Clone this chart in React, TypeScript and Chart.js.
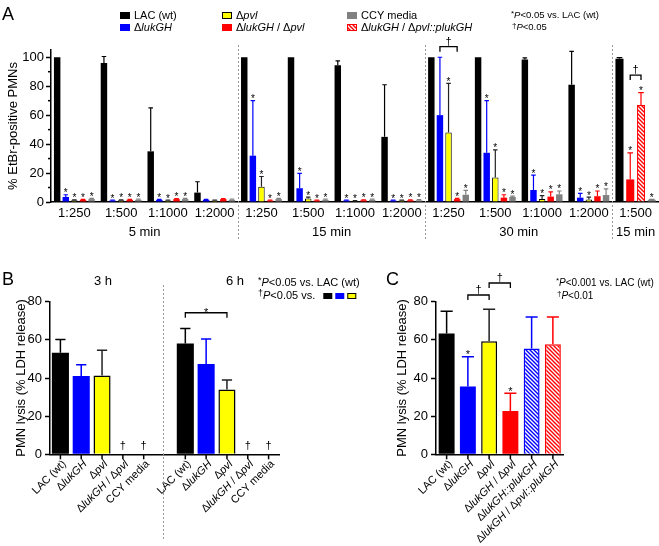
import React, { useEffect, useRef } from 'react';
import { Chart, registerables } from 'chart.js';
Chart.register(...registerables);

const FONT = '"Liberation Sans", Arial, Helvetica, sans-serif';
const BLACK = '#000000';
const BLUE = '#0000ff';
const YELLOW = '#ffff00';
const RED = '#ff0000';
const GRAY = '#808080';
const DARK = '#222222';

// ---------------- Panel A data ----------------
const aCategories = ['1:250', '1:500', '1:1000', '1:2000', '1:250', '1:500', '1:1000', '1:2000', '1:250', '1:500', '1:1000', '1:2000', '1:500'];
const aGroupLabels = ['5 min', '15 min', '30 min', '15 min'];
const aGroupSizes = [4, 4, 4, 1];
const aSeriesNames = ['LAC (wt)', 'Δ_lukGH_', 'Δ_pvl_', 'Δ_lukGH_ / Δ_pvl_', 'Δ_lukGH_ / Δ_pvl::plukGH_', 'CCY media'];
const aLAC = [100, 96, 35, 6.5, 100, 100, 94.5, 45, 100, 100, 98.5, 81, 99];
const aLACErr = [0, 4.5, 30, 7.5, 0, 0, 3, 36, 0, 0, 1, 23, 0.8];
const aLukGH = [3.5, 1, 1.5, 1.5, 32, 9.5, 1, 1, 60, 34, 8.3, 3, null];
const aLukGHErr = [1.5, 0.3, 0.3, 0.3, 38, 10.3, 0.3, 0.3, 40, 36, 10.3, 3, null];
const aPvl = [1.2, 1.2, 1, 1, 10.6, 2.5, 0.6, 1, 48, 17, 2, 1.8, null];
const aPvlErr = [0.3, 0.3, 0.3, 0.3, 7, 0.8, 0.3, 0.3, 34, 19, 2.4, 1.5, null];
const aDouble = [1.5, 1.5, 2, 2, 1, 1, 1.2, 1.2, 2, 3, 3.7, 4, 15.6];
const aDoubleErr = [0.3, 0.3, 0.3, 0.3, 0.3, 0.3, 0.3, 0.3, 0.5, 2, 3.3, 3.6, 18.4];
const aComp = [null, null, null, null, null, null, null, null, null, null, null, null, 67];
const aCompErr = [null, null, null, null, null, null, null, null, null, null, null, null, 8.6];
const aCCY = [2, 1.5, 2, 1.5, 2, 1.5, 1.5, 1.2, 5, 3.5, 5.3, 4.8, 1.5];
const aCCYErr = [0.5, 0.5, 0.5, 0.5, 0.5, 0.5, 0.5, 0.5, 3, 0.5, 2.3, 4.2, 0.3];
const aLACStar = [0, 0, 0, 0, 0, 0, 0, 0, 0, 0, 0, 0, 0];
const aLukGHStar = [1, 1, 1, 0, 1, 1, 1, 1, 0, 1, 1, 1, 0];
const aPvlStar = [1, 1, 1, 0, 1, 1, 1, 1, 1, 1, 1, 1, 0];
const aDoubleStar = [1, 1, 1, 0, 1, 1, 1, 1, 1, 1, 1, 1, 1];
const aCompStar = [0, 0, 0, 0, 0, 0, 0, 0, 0, 0, 0, 0, 1];
const aCCYStar = [1, 1, 1, 0, 1, 1, 1, 1, 1, 1, 1, 1, 1];
const aBrackets = [
  { cat: 8, from: 1, to: 3, level: 107.3, mark: '†' },
  { cat: 12, from: 3, to: 4, level: 87.7, mark: '†' },
];
const aYTicks = [0, 20, 40, 60, 80, 100];

// ---------------- Panel B data ----------------
const bLabels = ['LAC (wt)', 'Δ_lukGH_', 'Δ_pvl_', 'Δ_lukGH_ / Δ_pvl_', 'CCY media'];
const bTimes = ['3 h', '6 h'];
const b3h = [53.2, 41, 41.3, null, null];
const b3hErr = [7, 5.9, 13.3, null, null];
const b6h = [58.1, 47.3, 34, null, null];
const b6hErr = [7.9, 13.1, 5, null, null];
const bDagger = [0, 0, 0, 1, 1];
const bBracket = { from: 6, to: 8, level: 74.2, mark: '*' };

// ---------------- Panel C data ----------------
const cLabels = ['LAC (wt)', 'Δ_lukGH_', 'Δ_pvl_', 'Δ_lukGH_ / Δ_pvl_', 'Δ_lukGH::plukGH_', 'Δ_lukGH_ / Δ_pvl::plukGH_'];
const cValues = [63.3, 35.5, 59.3, 22.7, 55.5, 57.7];
const cErr = [11.7, 15.6, 16.8, 9.3, 16.5, 14.3];
const cStar = [0, 1, 0, 1, 0, 0];
const cBrackets = [
  { from: 1, to: 2, level: 83.5, mark: '†' },
  { from: 2, to: 3, level: 89.8, mark: '†' },
];

// ---------------- helpers ----------------
type Seg = { t: string; it: boolean; sup: boolean };
function parseRich(s: string): Seg[] {
  const segs: Seg[] = [];
  let it = false;
  let buf = '';
  const flush = () => {
    if (buf) segs.push({ t: buf, it, sup: false });
    buf = '';
  };
  for (let i = 0; i < s.length; i++) {
    const c = s[i];
    if (c === '_') { flush(); it = !it; continue; }
    if (c === '^') { flush(); segs.push({ t: s[i + 1], it: false, sup: true }); i++; continue; }
    buf += c;
  }
  flush();
  return segs;
}
function fontFor(seg: Seg, size: number) {
  return `${seg.it ? 'italic ' : ''}${seg.sup ? Math.round(size * 0.8) : size}px ${FONT}`;
}
function richWidth(ctx: CanvasRenderingContext2D, text: string, size: number) {
  let w = 0;
  for (const s of parseRich(text)) { ctx.font = fontFor(s, size); w += ctx.measureText(s.t).width; }
  return w;
}
function drawRich(ctx: CanvasRenderingContext2D, text: string, x: number, y: number, size: number, align = 'left', color = '#000') {
  const segs = parseRich(text);
  const w = richWidth(ctx, text, size);
  let cx = align === 'left' ? x : align === 'right' ? x - w : x - w / 2;
  ctx.save();
  ctx.fillStyle = color;
  ctx.textBaseline = 'middle';
  ctx.textAlign = 'left';
  for (const s of segs) {
    ctx.font = fontFor(s, size);
    ctx.fillText(s.t, cx, s.sup ? y - size * 0.22 : y);
    cx += ctx.measureText(s.t).width;
  }
  ctx.restore();
  return w;
}
function hatch(color: string) {
  const c = document.createElement('canvas');
  c.width = 4; c.height = 4;
  const g = c.getContext('2d')!;
  g.fillStyle = '#fff';
  g.fillRect(0, 0, 4, 4);
  g.strokeStyle = color;
  g.lineWidth = 1.4;
  g.beginPath();
  g.moveTo(0, 0); g.lineTo(4, 4);
  g.moveTo(-1, 3); g.lineTo(1, 5);
  g.moveTo(3, -1); g.lineTo(5, 1);
  g.stroke();
  return g.createPattern(c, 'repeat')!;
}
function errBar(ctx: CanvasRenderingContext2D, x: number, yBar: number, yTop: number, half: number, color: string, lw: number) {
  ctx.save();
  ctx.strokeStyle = color;
  ctx.lineWidth = lw;
  ctx.beginPath();
  ctx.moveTo(x, yBar); ctx.lineTo(x, yTop);
  ctx.moveTo(x - half, yTop); ctx.lineTo(x + half, yTop);
  ctx.stroke();
  ctx.restore();
}
function star(ctx: CanvasRenderingContext2D, x: number, y: number, size = 10) {
  ctx.save();
  ctx.font = `${size}px ${FONT}`;
  ctx.fillStyle = '#000';
  ctx.textAlign = 'center';
  ctx.textBaseline = 'alphabetic';
  ctx.fillText('*', x, y + 2.5);
  ctx.restore();
}
function bracket(ctx: CanvasRenderingContext2D, x1: number, x2: number, y: number, drop: number, mark: string) {
  ctx.save();
  ctx.strokeStyle = '#000';
  ctx.lineWidth = 1.3;
  ctx.beginPath();
  ctx.moveTo(x1, y + drop); ctx.lineTo(x1, y); ctx.lineTo(x2, y); ctx.lineTo(x2, y + drop);
  ctx.stroke();
  ctx.font = `11px ${FONT}`;
  ctx.fillStyle = '#000';
  ctx.textAlign = 'center';
  ctx.textBaseline = 'alphabetic';
  ctx.fillText(mark, (x1 + x2) / 2, mark === '*' ? y + 3 : y - 2);
  ctx.restore();
}
function dotted(ctx: CanvasRenderingContext2D, x: number, y1: number, y2: number) {
  ctx.save();
  ctx.strokeStyle = '#999';
  ctx.lineWidth = 1;
  ctx.setLineDash([2, 2]);
  ctx.beginPath();
  ctx.moveTo(Math.round(x) + 0.5, y1); ctx.lineTo(Math.round(x) + 0.5, y2);
  ctx.stroke();
  ctx.restore();
}
function swatch(ctx: CanvasRenderingContext2D, x: number, y: number, w: number, h: number, fill: any, border: string | null) {
  ctx.save();
  ctx.fillStyle = fill;
  ctx.fillRect(x, y - h / 2, w, h);
  if (border) { ctx.strokeStyle = border; ctx.lineWidth = 1; ctx.strokeRect(x + 0.5, y - h / 2 + 0.5, w - 1, h - 1); }
  ctx.restore();
}
function plainLabel(s: string) { return s.replace(/[_^]/g, ''); }

const yAxisBase = (max: number, title: string, titlePad: number, width: number, tickPad: number) => ({
  min: 0,
  max,
  grid: { drawOnChartArea: false, drawTicks: true, tickLength: 5, tickColor: '#000', tickWidth: 1.5, color: '#000' },
  border: { display: true, color: '#000', width: 1.5 },
  ticks: { stepSize: 20, color: '#000', font: { family: FONT, size: 13 }, padding: tickPad },
  title: { display: true, text: title, color: '#000', font: { family: FONT, size: 13 }, padding: { top: titlePad, bottom: 0 } },
  afterFit: (s: any) => { s.width = width; },
});

// ---------------- configs ----------------
function configA(): any {
  const hatchRed = hatch(RED);
  const series = [
    { data: aLAC, err: aLACErr, stars: aLACStar, fill: BLACK, border: BLACK, bw: 0, ec: BLACK },
    { data: aLukGH, err: aLukGHErr, stars: aLukGHStar, fill: BLUE, border: BLUE, bw: 0, ec: BLUE },
    { data: aPvl, err: aPvlErr, stars: aPvlStar, fill: YELLOW, border: BLACK, bw: 1, ec: DARK },
    { data: aDouble, err: aDoubleErr, stars: aDoubleStar, fill: RED, border: RED, bw: 0, ec: RED },
    { data: aComp, err: aCompErr, stars: aCompStar, fill: hatchRed, border: RED, bw: 1, ec: RED },
    { data: aCCY, err: aCCYErr, stars: aCCYStar, fill: GRAY, border: GRAY, bw: 0, ec: GRAY },
  ];
  const plugin = {
    id: 'panelA',
    afterDatasetsDraw(chart: any) {
      const ctx = chart.ctx;
      const y = chart.scales.y;
      series.forEach((s, di) => {
        const meta = chart.getDatasetMeta(di);
        s.data.forEach((v: any, i: number) => {
          if (v === null) return;
          const el = meta.data[i];
          const e = s.err[i] || 0;
          const top = y.getPixelForValue(v + e);
          if (e > 0) errBar(ctx, el.x, el.y, top, Math.max(2, el.width * 0.35), s.ec, 1.2);
          if (s.stars[i]) star(ctx, el.x, top - 1, 10);
        });
      });
      aBrackets.forEach((b) => {
        const x1 = chart.getDatasetMeta(b.from).data[b.cat].x;
        const x2 = chart.getDatasetMeta(b.to).data[b.cat].x;
        bracket(ctx, x1, x2, y.getPixelForValue(b.level), 5, b.mark);
      });
    },
    afterDraw(chart: any) {
      const ctx = chart.ctx;
      const x = chart.scales.x;
      const y = chart.scales.y;
      const area = chart.chartArea;
      // minor ticks
      ctx.save();
      ctx.strokeStyle = '#000';
      ctx.lineWidth = 1.5;
      for (let v = 10; v < 100; v += 20) {
        const py = y.getPixelForValue(v);
        ctx.beginPath(); ctx.moveTo(area.left - 3, py); ctx.lineTo(area.left, py); ctx.stroke();
      }
      ctx.restore();
      // groups
      let start = 0;
      aGroupSizes.forEach((n, gi) => {
        const x1 = x.getPixelForValue(start);
        const x2 = x.getPixelForValue(start + n - 1);
        drawRich(ctx, aGroupLabels[gi], (x1 + x2) / 2, 232, 13, 'center');
        if (gi > 0) {
          const xs = (x.getPixelForValue(start - 1) + x1) / 2;
          dotted(ctx, xs, 45, 240);
        }
        start += n;
      });
      // label A
      drawRich(ctx, 'A', 2, 15, 18, 'left');
      // legend
      const cols = [120, 222, 347];
      const rowsY = [15.5, 27.5];
      const order = [[0, 1], [2, 3], [5, 4]];
      order.forEach((pair, ci) => {
        pair.forEach((si, ri) => {
          const s = series[si];
          swatch(ctx, cols[ci], rowsY[ri], 10, 7, s.fill, s.bw ? s.border : null);
          drawRich(ctx, aSeriesNames[si], cols[ci] + 14, rowsY[ri], 11, 'left');
        });
      });
      drawRich(ctx, '^*_P_<0.05 vs. LAC (wt)', 511, rowsY[0], 9.5, 'left');
      drawRich(ctx, '^†_P_<0.05', 512, rowsY[1], 9.5, 'left');
    },
  };
  return {
    type: 'bar',
    data: {
      labels: aCategories,
      datasets: series.map((s, i) => ({
        label: plainLabel(aSeriesNames[i]),
        data: s.data,
        backgroundColor: s.fill,
        borderColor: s.border,
        borderWidth: s.bw,
        skipNull: true,
      })),
    },
    options: {
      responsive: false,
      animation: false,
      layout: { padding: { left: 0, top: 50, right: 0, bottom: 304 } },
      datasets: { bar: { barPercentage: 0.75, categoryPercentage: 0.92 } },
      plugins: { legend: { display: false }, tooltip: { enabled: false } },
      scales: {
        x: {
          type: 'category',
          offset: true,
          grid: { display: false, drawTicks: false },
          border: { display: true, color: '#000', width: 1.5 },
          ticks: { color: '#000', font: { family: FONT, size: 13 }, padding: 4, maxRotation: 0, autoSkip: false },
          afterFit: (s: any) => { s.height = 40; },
        },
        y: {
          ...yAxisBase(105, '% EtBr-positive PMNs', 5.5, 51, 2),
          afterBuildTicks: (s: any) => { s.ticks = aYTicks.map((v) => ({ value: v })); },
        },
      },
    },
    plugins: [plugin],
  };
}

function drawRotLabels(chart: any, labels: string[]) {
  const ctx = chart.ctx;
  const x = chart.scales.x;
  const bottom = chart.chartArea.bottom;
  labels.forEach((lab, i) => {
    if (!lab) return;
    const px = x.getPixelForValue(i);
    ctx.save();
    ctx.strokeStyle = '#000';
    ctx.lineWidth = 1.5;
    ctx.beginPath(); ctx.moveTo(px, bottom); ctx.lineTo(px, bottom + 5); ctx.stroke();
    ctx.translate(px + 4, bottom + 8);
    ctx.rotate(-Math.PI / 4);
    drawRich(ctx, lab, 0, 0, 11, 'right');
    ctx.restore();
  });
}

function configB(): any {
  const labels = [...bLabels, '', ...bLabels];
  const values = [...b3h, null, ...b6h];
  const errs = [...b3hErr, null, ...b6hErr];
  const daggers = [...bDagger, 0, ...bDagger];
  const fills = [BLACK, BLUE, YELLOW, RED, GRAY];
  const borders = [BLACK, BLUE, BLACK, RED, GRAY];
  const bws = [0, 0, 1.5, 0, 0];
  const ecs = [BLACK, BLUE, DARK, RED, GRAY];
  const pick = (arr: any[]) => [...arr, null, ...arr];
  const plugin = {
    id: 'panelB',
    afterDatasetsDraw(chart: any) {
      const ctx = chart.ctx;
      const y = chart.scales.y;
      const meta = chart.getDatasetMeta(0);
      const ec = pick(ecs);
      values.forEach((v: any, i: number) => {
        const el = meta.data[i];
        if (v !== null) {
          const top = y.getPixelForValue(v + (errs[i] || 0));
          errBar(ctx, el.x, el.y, top, el.width * 0.3, ec[i], 1.5);
        }
        if (daggers[i]) {
          ctx.save();
          ctx.font = `11px ${FONT}`;
          ctx.fillStyle = '#000';
          ctx.textAlign = 'center';
          ctx.textBaseline = 'middle';
          ctx.fillText('†', chart.scales.x.getPixelForValue(i), chart.chartArea.bottom - 8);
          ctx.restore();
        }
      });
      const x1 = meta.data[bBracket.from].x;
      const x2 = meta.data[bBracket.to].x;
      bracket(ctx, x1, x2, y.getPixelForValue(bBracket.level), 5, bBracket.mark);
    },
    afterDraw(chart: any) {
      const ctx = chart.ctx;
      const x = chart.scales.x;
      drawRotLabels(chart, labels);
      drawRich(ctx, 'B', 2, 280, 18, 'left');
      const c1 = (x.getPixelForValue(0) + x.getPixelForValue(4)) / 2;
      const c2 = (x.getPixelForValue(6) + x.getPixelForValue(10)) / 2;
      drawRich(ctx, bTimes[0], c1 + 1, 281, 13, 'center');
      drawRich(ctx, bTimes[1], c2 + 8, 281, 13, 'center');
      dotted(ctx, x.getPixelForValue(5) - 2, 285, 540);
      drawRich(ctx, '^*_P_<0.05 vs. LAC (wt)', 258, 283, 11, 'left');
      const w = drawRich(ctx, '^†_P_<0.05 vs.', 258, 296, 11, 'left');
      [0, 1, 2].forEach((k) => swatch(ctx, 258 + w + 8 + k * 12, 296, 9, 6, fills[k], k === 2 ? BLACK : null));
    },
  };
  return {
    type: 'bar',
    data: {
      labels: labels.map(plainLabel),
      datasets: [{
        label: 'PMN lysis',
        data: values,
        backgroundColor: pick(fills),
        borderColor: pick(borders),
        borderWidth: pick(bws).map((v) => v || 0),
      }],
    },
    options: {
      responsive: false,
      animation: false,
      layout: { padding: { left: 0, top: 301.7, right: 380, bottom: 51.7 } },
      datasets: { bar: { barPercentage: 0.82, categoryPercentage: 1 } },
      plugins: { legend: { display: false }, tooltip: { enabled: false } },
      scales: {
        x: {
          type: 'category', offset: true,
          grid: { display: false, drawTicks: false },
          border: { display: true, color: '#000', width: 1.5 },
          ticks: { display: false },
          afterFit: (s: any) => { s.height = 40; },
        },
        y: yAxisBase(80, 'PMN lysis (% LDH release)', 14, 50, 3),
      },
    },
    plugins: [plugin],
  };
}

function configC(): any {
  const fills = [BLACK, BLUE, YELLOW, RED, hatch(BLUE), hatch(RED)];
  const borders = [BLACK, BLUE, BLACK, RED, BLUE, RED];
  const bws = [0, 0, 1.5, 0, 1.5, 1.5];
  const ecs = [BLACK, BLUE, DARK, RED, BLUE, RED];
  const plugin = {
    id: 'panelC',
    afterDatasetsDraw(chart: any) {
      const ctx = chart.ctx;
      const y = chart.scales.y;
      const meta = chart.getDatasetMeta(0);
      cValues.forEach((v, i) => {
        const el = meta.data[i];
        const top = y.getPixelForValue(v + cErr[i]);
        errBar(ctx, el.x, el.y, top, el.width * 0.38, ecs[i], 1.5);
        if (cStar[i]) star(ctx, el.x, top - 1, 11);
      });
      cBrackets.forEach((b) => {
        bracket(ctx, meta.data[b.from].x, meta.data[b.to].x, y.getPixelForValue(b.level), 5, b.mark);
      });
    },
    afterDraw(chart: any) {
      const ctx = chart.ctx;
      drawRotLabels(chart, cLabels);
      drawRich(ctx, 'C', 386, 280, 18, 'left');
      drawRich(ctx, '^*_P_<0.001 vs. LAC (wt)', 556, 283, 10, 'left');
      drawRich(ctx, '^†_P_<0.01', 557, 296, 10, 'left');
    },
  };
  return {
    type: 'bar',
    data: {
      labels: cLabels.map(plainLabel),
      datasets: [{ label: 'PMN lysis', data: cValues, backgroundColor: fills, borderColor: borders, borderWidth: bws }],
    },
    options: {
      responsive: false,
      animation: false,
      layout: { padding: { left: 386, top: 301.7, right: 95.5, bottom: 51.7 } },
      datasets: { bar: { barPercentage: 0.75, categoryPercentage: 1 } },
      plugins: { legend: { display: false }, tooltip: { enabled: false } },
      scales: {
        x: {
          type: 'category', offset: true,
          grid: { display: false, drawTicks: false },
          border: { display: true, color: '#000', width: 1.5 },
          ticks: { display: false },
          afterFit: (s: any) => { s.height = 40; },
        },
        y: yAxisBase(80, 'PMN lysis (% LDH release)', 9, 50, 3),
      },
    },
    plugins: [plugin],
  };
}

export default function App() {
  const aRef = useRef<HTMLCanvasElement>(null);
  const bRef = useRef<HTMLCanvasElement>(null);
  const cRef = useRef<HTMLCanvasElement>(null);
  useEffect(() => {
    const charts = [
      new Chart(aRef.current!, configA()),
      new Chart(bRef.current!, configB()),
      new Chart(cRef.current!, configC()),
    ];
    return () => charts.forEach((c) => c.destroy());
  }, []);
  const cs: React.CSSProperties = { position: 'absolute', left: 0, top: 0, width: 659, height: 546 };
  return (
    <div style={{ position: 'fixed', left: 0, top: 0, width: 659, height: 546, background: '#fff', overflow: 'hidden' }}>
      <canvas ref={aRef} width={659} height={546} style={cs} />
      <canvas ref={bRef} width={659} height={546} style={cs} />
      <canvas ref={cRef} width={659} height={546} style={cs} />
    </div>
  );
}
